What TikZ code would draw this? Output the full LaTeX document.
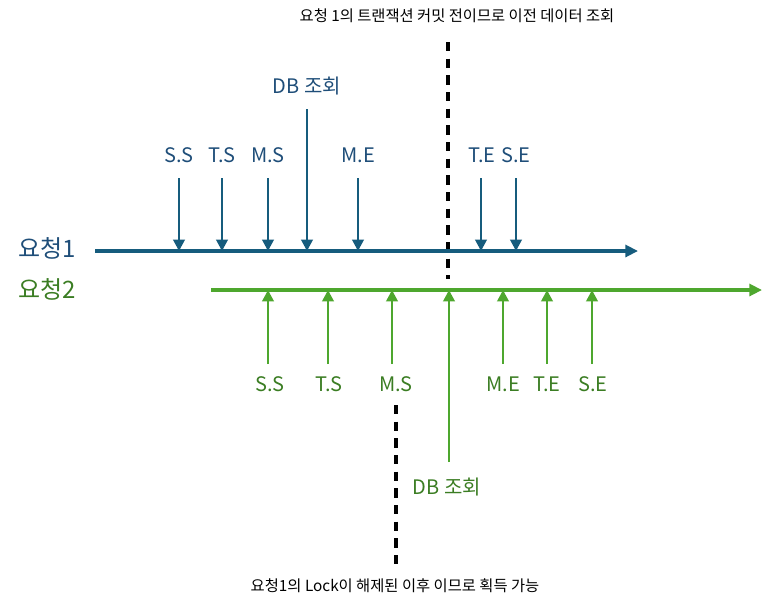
\documentclass[tikz,border=0pt]{standalone}
\usepackage{fontspec}
\setmainfont{Noto Sans CJK KR}
\usetikzlibrary{arrows.meta}
\definecolor{bline}{RGB}{22,92,125}
\definecolor{btext}{RGB}{31,78,121}
\definecolor{gline}{RGB}{78,167,46}
\definecolor{gtext}{RGB}{59,125,35}
\tikzset{
  barrow/.style={draw=bline,line width=2pt,-{Triangle[length=8.5pt,width=8.5pt]}},
  garrow/.style={draw=gline,line width=2pt,-{Triangle[length=8.5pt,width=8.5pt]}},
  bmain/.style={draw=bline,line width=2.3pt,-{Triangle[length=9.5pt,width=9pt]}},
  gmain/.style={draw=gline,line width=2.3pt,-{Triangle[length=9.5pt,width=9pt]}},
  blab/.style={text=btext,font=\fontsize{15}{18}\selectfont,inner sep=0pt},
  glab/.style={text=gtext,font=\fontsize{15}{18}\selectfont,inner sep=0pt},
  dashline/.style={draw=black,line width=2.3pt,dash pattern=on 7pt off 5.5pt},
  note/.style={text=black,font=\fontsize{11.5}{14}\selectfont,inner sep=0pt}
}
\begin{document}
\begin{tikzpicture}[x=0.75pt,y=-0.75pt]
\useasboundingbox (0,0) rectangle (774,608);
% row labels
\node[text=btext,font=\fontsize{18}{22}\selectfont,inner sep=0pt] (r1) at (47,248) {요청1};
\node[text=gtext,font=\fontsize{18}{22}\selectfont,inner sep=0pt] (r2) at (47,289) {요청2};
% main timelines
\coordinate (b0) at (95,251);
\coordinate (b1) at (638,251);
\coordinate (g0) at (211,290);
\coordinate (g1) at (762,290);
% dashed lines
\coordinate (d1a) at (448,42);
\coordinate (d1b) at (448,279);
\coordinate (d2a) at (396,405);
\coordinate (d2b) at (396,566);
\draw[dashline] (d1a) -- (d1b);
\draw[dashline] (d2a) -- (d2b);
\draw[bmain] (b0) -- (b1);
\draw[gmain] (g0) -- (g1);
% blue labels
\node[blab] (bss) at (179,155) {S.S};
\node[blab] (bts) at (222,155) {T.S};
\node[blab] (bms) at (268,155) {M.S};
\node[blab] (bdb) at (307,86) {DB 조회};
\node[blab] (bme) at (358,155) {M.E};
\node[blab] (bte) at (482,155) {T.E};
\node[blab] (bse) at (516,155) {S.E};
% blue arrows
\foreach \n/\x/\y in {ss/179/178, ts/222/178, ms/268/178, db/307/109, me/358/178, te/481/178, se/516/178}{
  \coordinate (bs\n) at (\x,\y);
  \coordinate (be\n) at (\x,251);
  \draw[barrow] (bs\n) -- (be\n);
}
% green labels
\node[glab] (gss) at (270,384) {S.S};
\node[glab] (gts) at (329,384) {T.S};
\node[glab] (gms) at (396,384) {M.S};
\node[glab] (gdb) at (447,487) {DB 조회};
\node[glab] (gme) at (503,384) {M.E};
\node[glab] (gte) at (547,384) {T.E};
\node[glab] (gse) at (593,384) {S.E};
\foreach \n/\x/\y in {ss/268/364, ts/328/364, ms/392/364, db/449/462, me/503/364, te/547/364, se/592/364}{
  \coordinate (gs\n) at (\x,\y);
  \coordinate (ge\n) at (\x,290);
  \draw[garrow] (gs\n) -- (ge\n);
}
% notes
\node[note] (n1) at (457,16) {요청 1의 트랜잭션 커밋 전이므로 이전 데이터 조회};
\node[note] (n2) at (395,586) {요청1의 Lock이 해제된 이후 이므로 획득 가능};
\end{tikzpicture}
\end{document}
